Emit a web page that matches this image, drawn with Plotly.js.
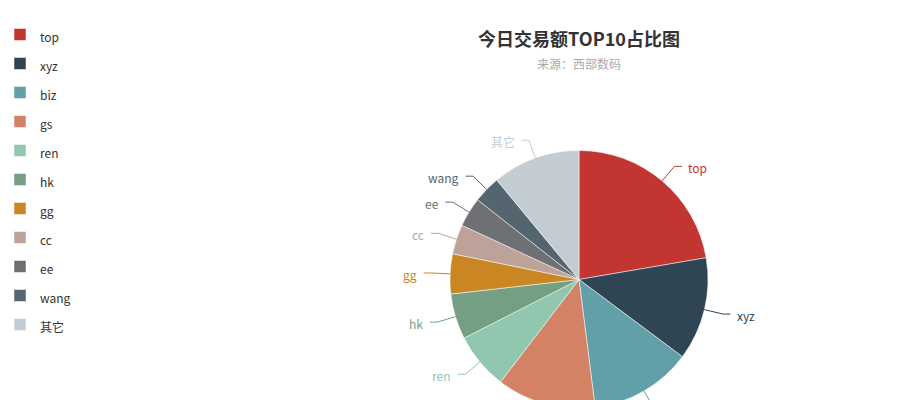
<!DOCTYPE html>
<html>
<head>
<meta charset="utf-8">
<script src="https://cdn.plot.ly/plotly-3.0.1.min.js"></script>
<style>
html,body{margin:0;padding:0;overflow:hidden;background:#fff;}
#chart{width:900px;height:420px;}
</style>
</head>
<body>
<div id="chart"></div>
<script>
const categories = ['top','xyz','biz','gs','ren','hk','gg','cc','ee','wang','其它'];
const values = [223, 129, 128, 124, 71, 57, 50, 37, 37, 34, 110];
const colors = ['#c23531','#2f4554','#61a0a8','#d48265','#91c7ae','#749f83','#ca8622','#bda29a','#6e7074','#546570','#c4ccd3'];
const titleText = '今日交易额TOP10占比图';
const subtitleText = '来源：西部数码';

const W = 900, H = 420;
const cx = 579, cy = 279.5, r = 129;
const lineLen1 = 19, lineLen2 = 7.5, textGap = 4.5;

const FONT = 'Noto Sans CJK SC, sans-serif';
const legendLabels = categories.map(c => '<span style="font-size:12px">' + c + '</span>');

const trace = {
  type: 'pie',
  labels: legendLabels,
  values: values,
  sort: false,
  direction: 'clockwise',
  rotation: 0,
  marker: {colors: colors, line: {color: '#ffffff', width: 0.5}},
  textinfo: 'none',
  domain: {x: [(cx - r) / W, (cx + r) / W], y: [(H - cy - r) / H, (H - cy + r) / H]},
  automargin: false,
  hoverinfo: 'label+value+percent'
};

// ECharts-style outside labels with leader lines, derived from the slice angles
const total = values.reduce((a, b) => a + b, 0);
const px = x => x / W, py = y => 1 - y / H;
const annotations = [];
const shapes = [];
let cum = 0;
values.forEach((v, i) => {
  const mid = (cum + v / 2) / total * 2 * Math.PI;
  cum += v;
  const dx = Math.sin(mid), dy = -Math.cos(mid);
  const x1 = cx + r * dx, y1 = cy + r * dy;
  const x2 = cx + (r + lineLen1) * dx, y2 = cy + (r + lineLen1) * dy;
  const side = dx < 0 ? -1 : 1;
  const x3 = x2 + side * lineLen2, y3 = y2;
  shapes.push({type: 'path', xref: 'paper', yref: 'paper',
    path: 'M' + px(x1) + ',' + py(y1) + ' L' + px(x2) + ',' + py(y2) + ' L' + px(x3) + ',' + py(y3),
    line: {color: colors[i], width: 1}});
  annotations.push({text: categories[i], xref: 'paper', yref: 'paper',
    x: px(x3 + side * textGap), y: py(y3 + 1.5),
    xanchor: side < 0 ? 'right' : 'left', yanchor: 'middle', showarrow: false,
    font: {size: 12, color: colors[i], family: FONT}});
});

annotations.push({text: subtitleText, xref: 'paper', yref: 'paper', x: cx / W, y: 1 - 63 / H,
  xanchor: 'center', yanchor: 'middle', showarrow: false,
  font: {size: 12, color: '#aaa', family: FONT}});

const layout = {
  width: W, height: H,
  margin: {l: 0, r: 0, t: 0, b: 0},
  paper_bgcolor: '#ffffff',
  font: {family: FONT, color: '#333'},
  title: {text: titleText, x: cx / W, xanchor: 'center', y: 1 - 40 / H, yanchor: 'middle',
          font: {size: 18, color: '#333', weight: 'bold', family: FONT}},
  annotations: annotations,
  shapes: shapes,
  showlegend: true,
  legend: {x: 0, y: 1 - 15 / H, xanchor: 'left', yanchor: 'top', orientation: 'v',
           font: {size: 20, color: '#333', family: FONT}, bgcolor: 'rgba(0,0,0,0)', traceorder: 'normal'}
};

Plotly.newPlot('chart', [trace], layout, {displayModeBar: false, staticPlot: true});
</script>
</body>
</html>
